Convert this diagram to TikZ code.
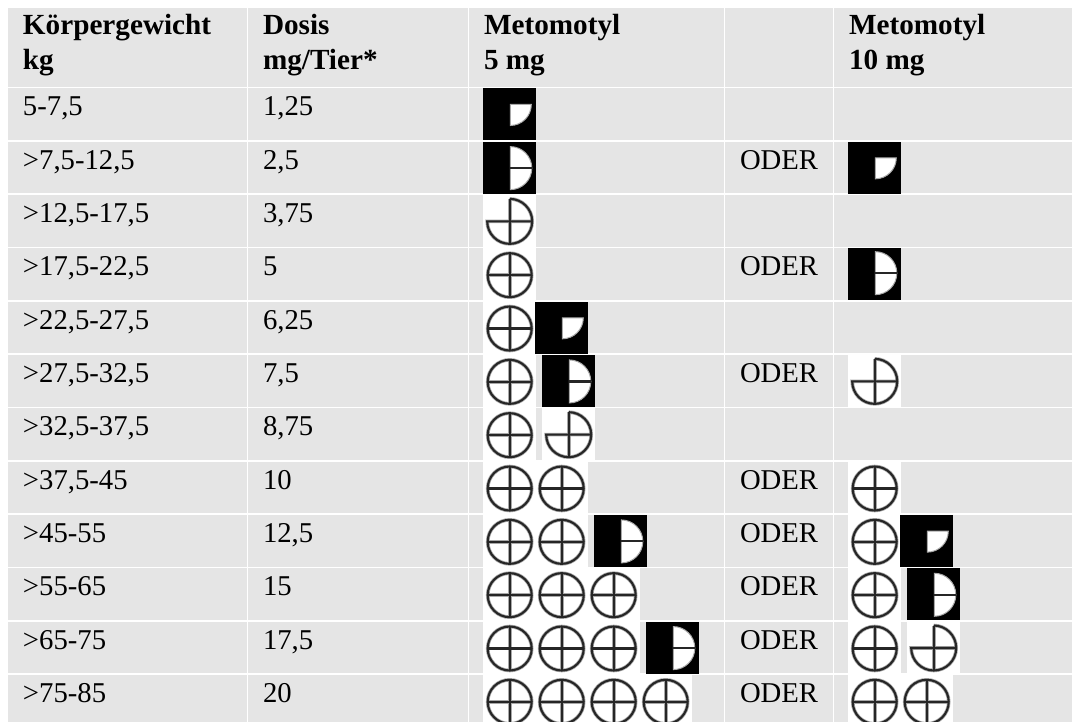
\documentclass[tikz,border=0pt]{standalone}
\usepackage{fontspec}
\setmainfont{Liberation Serif}
\definecolor{cellgray}{HTML}{E5E5E5}
\definecolor{ink}{HTML}{262626}
\definecolor{soft}{HTML}{A8A8A8}
\tikzset{
  cell/.style={anchor=base west,inner sep=0pt,outer sep=0pt,text=black,font=\fontsize{28.7}{32}\selectfont},
  head/.style={cell,font=\fontsize{29.2}{32}\selectfont\bfseries},
  softline/.style={draw=soft,line width=3.6pt},
  inkline/.style={draw=ink,line width=2.1pt},
  rule/.style={draw=white,line width=1.4pt}
}
% top of the image in row k
\newcommand{\rowtop}[1]{\pgfmathsetmacro{\imgy}{88.5+53.33*#1}}
% full circle
\newcommand{\imgfull}[2]{\rowtop{#2}\begin{scope}[shift={(#1,-\imgy)}]
  \fill[white] (0,0) rectangle (53,-52);
  \foreach \st in {softline,inkline}{
    \draw[\st] (26.7,-26.7) circle[radius=22];
    \draw[\st] (4.7,-26.7) -- (48.7,-26.7);
    \draw[\st] (26.7,-4.7) -- (26.7,-48.7);
  }
\end{scope}}
% three quarters
\newcommand{\imgthree}[2]{\rowtop{#2}\begin{scope}[shift={(#1,-\imgy)}]
  \fill[white] (0,0) rectangle (53,-52);
  \foreach \st in {softline,inkline}{
    \draw[\st] (26.7,-3.7) arc[start angle=90,end angle=-180,radius=22.5] -- (49.2,-26.2);
    \draw[\st] (26.7,-3.7) -- (26.7,-48.7);
  }
\end{scope}}
% half on black; #1 moves the half up or down
\newcommand{\imghalf}[3][0]{\rowtop{#3}\begin{scope}[shift={(#2,-\imgy)}]
  \fill[black] (0,0) rectangle (53,-52);
  \fill[white,draw=soft,line width=1pt] (27.3,{-4.8+#1}) arc[start angle=90,end angle=-90,radius=21.5] -- cycle;
  \draw[draw=ink,line width=2.1pt] (27,{-26.3+#1}) -- (49,{-26.3+#1});
\end{scope}}
% quarter on black
\newcommand{\imgquarter}[2]{\rowtop{#2}\begin{scope}[shift={(#1,-\imgy)}]
  \fill[black] (0,0) rectangle (53,-52);
  \fill[white,draw=soft,line width=1pt] (27.3,-16) -- (48.3,-16) arc[start angle=0,end angle=-90,radius=21] -- cycle;
\end{scope}}
\newcommand{\datarow}[3]{%
  \pgfmathsetmacro{\by}{116+53.33*#1}
  \node[cell] (w#1) at (23,-\by) {#2};
  \node[cell] (d#1) at (263,-\by) {#3};
}
\newcommand{\oder}[1]{%
  \pgfmathsetmacro{\by}{116+53.33*#1}
  \node[cell] (o#1) at (740,-\by) {ODER};
}
\begin{document}
\begin{tikzpicture}[x=1pt,y=1pt]
\useasboundingbox (0,0) rectangle (1072,-722);
\clip (0,0) rectangle (1072,-722);
\fill[cellgray] (8,-8) rectangle (1072,-722);
\foreach \cx in {247.7,468.7,724.7,833.7}
  \draw[rule] (\cx,-8) -- (\cx,-722);
\foreach \k in {0,...,11}{
  \pgfmathsetmacro{\ry}{87.5+53.33*\k}
  \draw[rule] (8,-\ry) -- (1072,-\ry);
}
% header
\node[head] (h1a) at (23,-35) {Körpergewicht};
\node[head] (h1b) at (23,-69.5) {kg};
\node[head] (h2a) at (263,-35) {Dosis};
\node[head] (h2b) at (263,-69.5) {mg/Tier*};
\node[head] (h3a) at (484,-35) {Metomotyl};
\node[head] (h3b) at (484,-69.5) {5 mg};
\node[head] (h5a) at (849,-35) {Metomotyl};
\node[head] (h5b) at (849,-69.5) {10 mg};
% rows
\datarow{0}{5-7,5}{1,25}
\datarow{1}{>7,5-12,5}{2,5}
\datarow{2}{>12,5-17,5}{3,75}
\datarow{3}{>17,5-22,5}{5}
\datarow{4}{>22,5-27,5}{6,25}
\datarow{5}{>27,5-32,5}{7,5}
\datarow{6}{>32,5-37,5}{8,75}
\datarow{7}{>37,5-45}{10}
\datarow{8}{>45-55}{12,5}
\datarow{9}{>55-65}{15}
\datarow{10}{>65-75}{17,5}
\datarow{11}{>75-85}{20}
\foreach \k in {1,3,5,7,8,9,10,11}{\oder{\k}}
% Metomotyl 5 mg
\imgquarter{483}{0}
\imghalf{483}{1}
\imgthree{483}{2}
\imgfull{483}{3}
\imgfull{483}{4}\imgquarter{535}{4}
\imgfull{483}{5}\imghalf{542}{5}
\imgfull{483}{6}\imgthree{542}{6}
\imgfull{483}{7}\imgfull{535}{7}
\imgfull{483}{8}\imgfull{535}{8}\imghalf{594}{8}
\imgfull{483}{9}\imgfull{535}{9}\imgfull{587}{9}
\imgfull{483}{10}\imgfull{535}{10}\imgfull{587}{10}\imghalf{646}{10}
\imgfull{483}{11}\imgfull{535}{11}\imgfull{587}{11}\imgfull{639}{11}
% Metomotyl 10 mg
\imgquarter{848}{1}
\imghalf[1.6]{848}{3}
\imgthree{848}{5}
\imgfull{848}{7}
\imgfull{848}{8}\imgquarter{900}{8}
\imgfull{848}{9}\imghalf{907}{9}
\imgfull{848}{10}\imgthree{907}{10}
\imgfull{848}{11}\imgfull{900}{11}
\end{tikzpicture}
\end{document}
